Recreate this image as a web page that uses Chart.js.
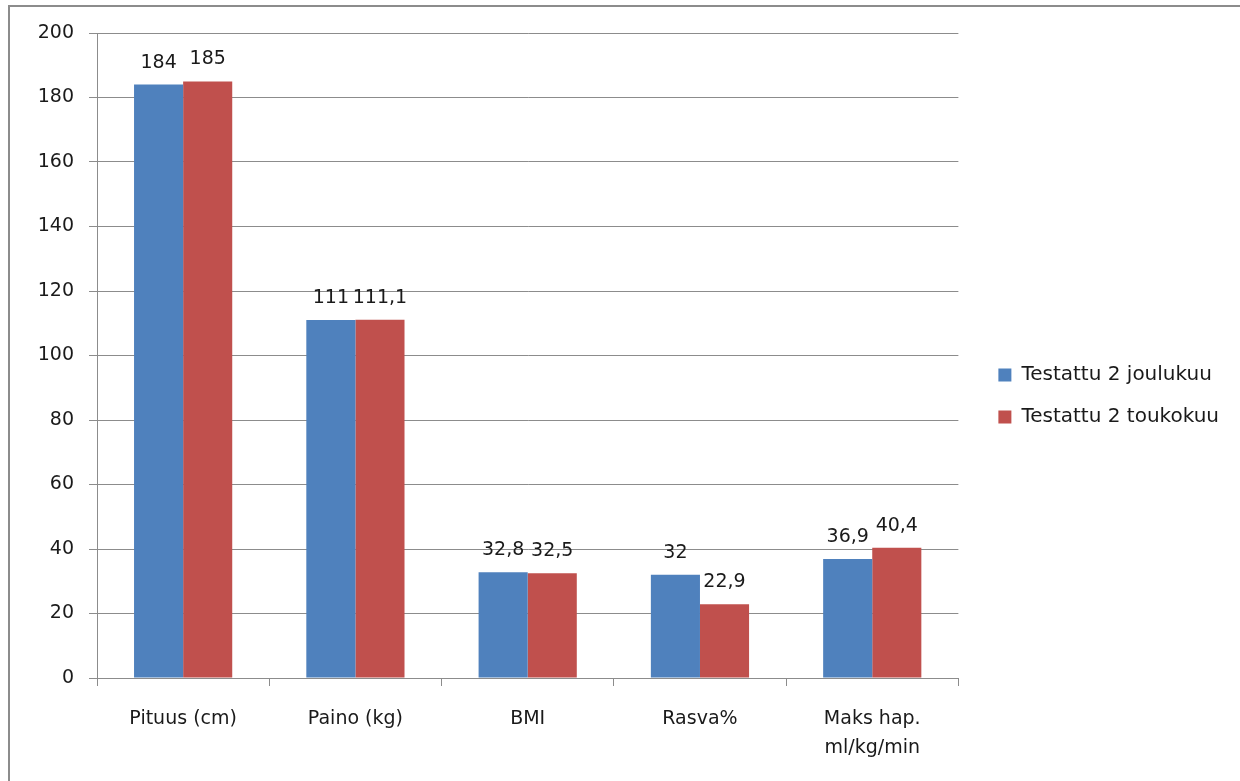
<!DOCTYPE html>
<html>
<head>
<meta charset="utf-8">
<title>Testitulokset</title>
<script src="https://cdn.jsdelivr.net/npm/chart.js@4.4.1/dist/chart.umd.min.js"></script>
<style>
  html, body { margin: 0; padding: 0; background: #ffffff; overflow: hidden; }
  #frame {
    position: absolute; left: 8px; top: 5px; width: 1400px; height: 900px;
    border-top: 2px solid #8c8c8c; border-left: 2px solid #8c8c8c;
    pointer-events: none;
  }
  #wrap { position: absolute; left: 0; top: 0; width: 1240px; height: 781px; }
</style>
</head>
<body>
<div id="frame"></div>
<div id="wrap"><canvas id="chart" width="1240" height="781"></canvas></div>
<script>
// Measurements per category
const categories = ['Pituus (cm)', 'Paino (kg)', 'BMI', 'Rasva%', ['Maks hap.', 'ml/kg/min']];
const seriesNames = ['Testattu 2 joulukuu', 'Testattu 2 toukokuu'];
const joulukuuValues = [184, 111, 32.8, 32, 36.9];
const toukokuuValues = [185, 111.1, 32.5, 22.9, 40.4];
const yTicks = [0, 20, 40, 60, 80, 100, 120, 140, 160, 180, 200];

const FONT = '"DejaVu Sans", "Open Sans", sans-serif';
const GRID = '#8c8c8c';
const INK = '#1a1a1a';

// Writes each bar's value above it, with a decimal comma
const valueLabels = {
  id: 'valueLabels',
  afterDatasetsDraw(chart) {
    const ctx = chart.ctx;
    ctx.save();
    ctx.font = '19px ' + FONT;
    ctx.fillStyle = INK;
    ctx.textAlign = 'center';
    ctx.textBaseline = 'alphabetic';
    chart.data.datasets.forEach((ds, di) => {
      const meta = chart.getDatasetMeta(di);
      meta.data.forEach((bar, i) => {
        const txt = String(ds.data[i]).replace('.', ',');
        ctx.fillText(txt, bar.x, bar.y - 17);
      });
    });
    ctx.restore();
  }
};

new Chart(document.getElementById('chart'), {
  type: 'bar',
  data: {
    labels: categories,
    datasets: [
      { label: seriesNames[0], data: joulukuuValues, backgroundColor: '#4f81bd', borderWidth: 0 },
      { label: seriesNames[1], data: toukokuuValues, backgroundColor: '#c0504d', borderWidth: 0 }
    ]
  },
  options: {
    responsive: false,
    animation: false,
    events: [],
    datasets: { bar: { categoryPercentage: 0.57, barPercentage: 1.0 } },
    layout: { padding: { top: 33, left: 0, right: 11, bottom: 22 } },
    plugins: {
      tooltip: { enabled: false },
      title: { display: false },
      legend: {
        display: true,
        position: 'right',
        align: 'center',
        maxWidth: 320,
        labels: {
          font: { family: FONT, size: 20 },
          color: INK,
          boxWidth: 13,
          boxHeight: 13,
          padding: 22
        }
      }
    },
    scales: {
      x: {
        grid: { display: true, offset: true, drawOnChartArea: false, drawTicks: true, tickLength: 8, color: GRID },
        border: { display: true, color: GRID, width: 1 },
        ticks: { font: { family: FONT, size: 19, lineHeight: 1.55 }, color: INK, padding: 18, maxRotation: 0, autoSkip: false },
        afterFit(scale) { scale.height = 81; }
      },
      y: {
        min: 0,
        max: 200,
        afterBuildTicks(scale) { scale.ticks = yTicks.map(v => ({ value: v })); },
        grid: { color: GRID, tickLength: 8, drawTicks: true },
        border: { display: true, color: GRID, width: 1 },
        ticks: { font: { family: FONT, size: 19 }, color: INK, padding: 15 },
        afterFit(scale) { scale.width = 97; }
      },
      gap: {
        type: 'linear',
        axis: 'y',
        position: 'right',
        display: true,
        grid: { display: false, drawTicks: false },
        border: { display: false },
        ticks: { display: false },
        afterFit(scale) { scale.width = 18; }
      }
    }
  },
  plugins: [valueLabels]
});
</script>
</body>
</html>
